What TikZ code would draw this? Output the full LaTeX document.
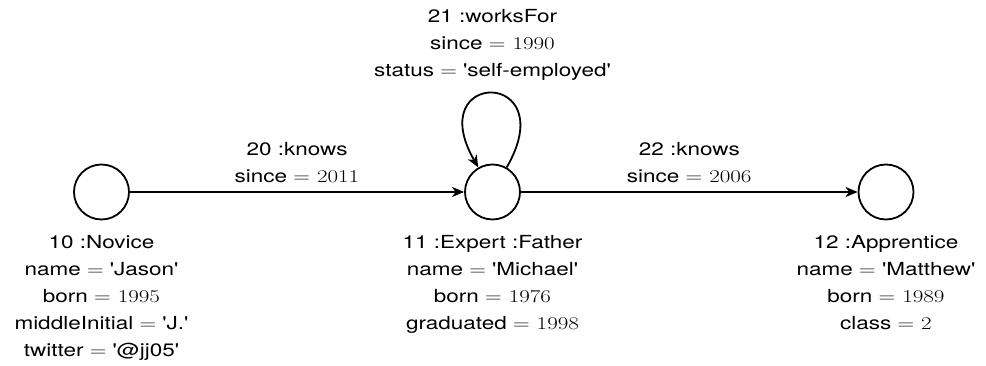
\documentclass[tikz,border=0pt]{standalone}
\usepackage{fontspec}
% wide sans family for labels (no TeX quote ligatures, so ' stays straight)
\newfontfamily\heros{TeX Gyre Heros}[FakeStretch=1.25]
% matching wide serif for values and equals signs
\newfontfamily\lmnum{Latin Modern Roman}[FakeStretch=1.28]
\newcommand\val[1]{{\lmnum #1}}
\usetikzlibrary{arrows.meta,positioning}

\begin{document}
\begin{tikzpicture}[x=1pt,y=1pt,
  entity/.style={circle,draw,line width=1.8pt,minimum size=55pt,inner sep=0pt},
  props/.style={align=center,inner sep=0pt,font=\fontsize{18}{27}\selectfont\heros},
  rel/.style={line width=1.8pt,-{Stealth[length=12pt,width=10pt,inset=3.5pt]}}]
\useasboundingbox (0,0) rectangle (986,366);

% graph nodes
\node[entity] (novice) at (101.5,174) {};
\node[entity] (expert) at (492.5,174) {};
\node[entity] (apprentice) at (886,174) {};

% node properties
\node[props,below=14.4pt of novice] (noviceprops)
  {10 :Novice\\name \val{=} 'Jason'\\born \val{= 1995}\\middleInitial \val{=} 'J.'\\twitter \val{=} '@jj05'};
\node[props,below=14.4pt of expert] (expertprops)
  {11 :Expert :Father\\name \val{=} 'Michael'\\born \val{= 1976}\\graduated \val{= 1998}};
\node[props,below=14.4pt of apprentice] (apprenticeprops)
  {12 :Apprentice\\name \val{=} 'Matthew'\\born \val{= 1989}\\class \val{= 2}};

% relationships
\draw[rel] (novice) -- node[props,above=8pt] (knows20) {20 :knows\\since \val{= 2011}} (expert);
\draw[rel] (expert) -- node[props,above=8pt] (knows22) {22 :knows\\since \val{= 2006}} (apprentice);
\draw[rel] (expert.60) .. controls +(60:114) and +(120:114) .. (expert.120);
\node[props,anchor=north] (worksfor) at (492.5,356.4)
  {21 :worksFor\\since \val{= 1990}\\status \val{=} 'self-employed'};
\end{tikzpicture}
\end{document}
